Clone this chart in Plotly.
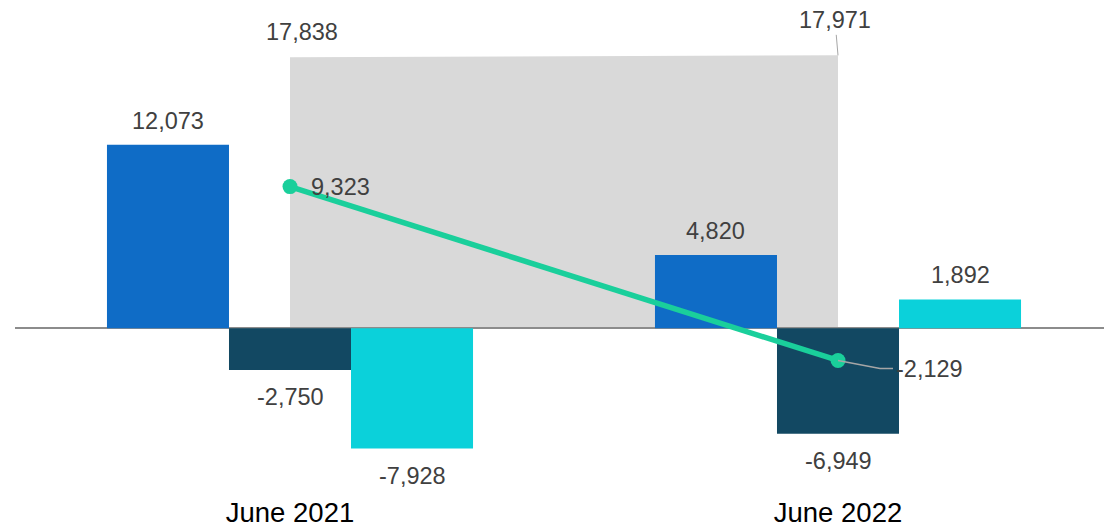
import plotly.graph_objects as go

# Periods on the category axis
periods = ["June 2021", "June 2022"]

# Component bars (three per period)
comp_a = [12073, 4820]
comp_b = [-2750, -6949]
comp_c = [-7928, 1892]

# Net change line
net_change = [9323, -2129]

# Background total (shaded area between the two periods)
total = [17838, 17971]

BLUE = "#0f6cc6"
NAVY = "#124862"
CYAN = "#0bd1da"
GREEN = "#1acf9b"
SHADE = "#d9d9d9"
LABEL = "#404040"
FONT = "Liberation Sans, Arial, sans-serif"
LABEL_SIZE = 23.5

pos = list(range(len(periods)))
BARGAP = 0.332
bar_w = (1 - BARGAP) / 3
offsets = [-bar_w, 0.0, bar_w]

fig = go.Figure()

for vals, color in zip([comp_a, comp_b, comp_c], [BLUE, NAVY, CYAN]):
    fig.add_trace(go.Bar(x=pos, y=vals, marker=dict(color=color, line=dict(width=0)),
                         showlegend=False, hoverinfo="skip"))

fig.add_trace(go.Scatter(x=pos, y=net_change, mode="lines+markers",
                         line=dict(color=GREEN, width=5.5),
                         marker=dict(color=GREEN, size=15),
                         showlegend=False, hoverinfo="skip"))

# Shaded total area, drawn beneath the zero line and the traces
path = f"M {pos[0]},0 L {pos[0]},{total[0]} L {pos[1]},{total[1]} L {pos[1]},0 Z"
fig.add_shape(type="path", path=path, xref="x", yref="y", layer="below",
              fillcolor=SHADE, line=dict(width=0))

annotations = []
# Bar value labels
for vals, off in zip([comp_a, comp_b, comp_c], offsets):
    for p, v in zip(pos, vals):
        annotations.append(dict(x=p + off, y=v, text=f"{v:,}", showarrow=False,
                                xanchor="center", yanchor="middle",
                                yshift=24 if v >= 0 else -27,
                                font=dict(size=LABEL_SIZE, color=LABEL, family=FONT)))

# Net change labels
annotations.append(dict(x=pos[0], y=net_change[0], text=f"{net_change[0]:,}", showarrow=False,
                        xanchor="left", yanchor="middle", xshift=19,
                        font=dict(size=LABEL_SIZE, color=LABEL, family=FONT)))
annotations.append(dict(x=pos[1], y=net_change[1], text=f"{net_change[1]:,}", showarrow=False,
                        xanchor="left", yanchor="middle", xshift=56, yshift=-9,
                        font=dict(size=LABEL_SIZE, color=LABEL, family=FONT)))
fig.add_shape(type="path", xref="x", yref="y", xsizemode="pixel", ysizemode="pixel",
              xanchor=pos[1], yanchor=net_change[1],
              path="M 0,0 L 42,-8 L 55,-8", line=dict(color="#a6a6a6", width=1.5),
              layer="above")

# Total labels
annotations.append(dict(x=pos[0], y=total[0], text=f"{total[0]:,}", showarrow=False,
                        xanchor="center", yanchor="middle", xshift=12, yshift=25,
                        font=dict(size=LABEL_SIZE, color=LABEL, family=FONT)))
annotations.append(dict(x=pos[1], y=total[1], text=f"{total[1]:,}", showarrow=True,
                        arrowhead=0, arrowwidth=1, arrowcolor="#a6a6a6",
                        ax=-3, ay=-35, standoff=0,
                        font=dict(size=LABEL_SIZE, color=LABEL, family=FONT)))

UNITS_PER_PX = 65.6
ZERO_PX = 329.5
PLOT_H = 495
y_range = [-(PLOT_H - ZERO_PX) * UNITS_PER_PX, ZERO_PX * UNITS_PER_PX]

PX_PER_CAT = 548
LEFT = 15
x_min = -(290 - LEFT) / PX_PER_CAT
x_range = [x_min, x_min + (1104 - LEFT) / PX_PER_CAT]

fig.update_layout(
    width=1104, height=528,
    margin=dict(l=LEFT, r=0, t=0, b=528 - PLOT_H),
    plot_bgcolor="white", paper_bgcolor="white",
    barmode="group", bargap=BARGAP, bargroupgap=0,
    annotations=annotations,
    font=dict(family=FONT),
    xaxis=dict(range=x_range, tickvals=pos, ticktext=periods, showgrid=False,
               zeroline=False, showline=False, ticks="",
               tickfont=dict(size=27.5, color="black", family=FONT)),
    yaxis=dict(range=y_range, showgrid=False, showticklabels=False, ticks="",
               zeroline=True, zerolinecolor="#8c8c8c", zerolinewidth=2),
)

fig.write_html("out.html")
